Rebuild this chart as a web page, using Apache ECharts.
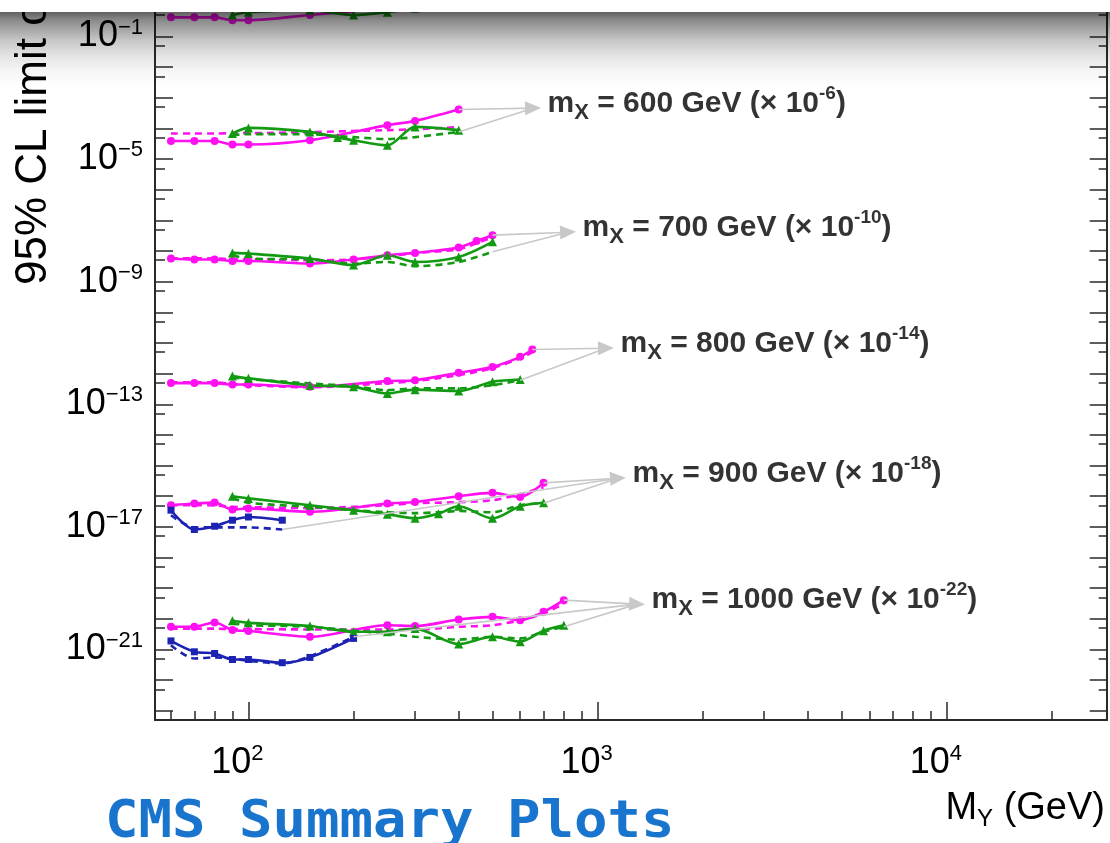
<!DOCTYPE html>
<html><head><meta charset="utf-8">
<script src="https://cdn.jsdelivr.net/npm/echarts@6/dist/echarts.min.js"></script>
<style>html,body{margin:0;padding:0;background:#fff}#c{width:1110px;height:843px}</style>
</head><body><div id="c"></div>
<script>
// ---------------- data (limits in the unscaled units; each row is multiplied by 10^SCALE_EXP) ----------------
const MX = [500, 600, 700, 800, 900, 1000];
const SCALE_EXP = [-2, -6, -10, -14, -18, -22];

// mX = 500 GeV (only its lower edge is visible at the top)
const MY_500_MAG = [60, 70, 80, 90, 100, 150, 250, 300, 400];
const OBS_500_MAG = [42, 42, 42, 34, 34, 50, 84, 105, 224];
const MY_500_GRN = [90, 100, 150, 200, 250, 300, 400];
const OBS_500_GRN = [50, 62, 72, 50, 62, 84, 151];

// mX = 600 GeV
const MY_600_MAG = [60, 70, 80, 90, 100, 150, 250, 300, 400];
const OBS_600_MAG = [39, 39, 39, 30, 30, 41, 128, 176, 415];
const EXP_600_MAG = [68, 68, 68, 70, 70, 76, 88, 94, 110];
const MY_600_GRN = [90, 100, 150, 180, 200, 250, 300, 400];
const OBS_600_GRN = [68, 104, 77, 51, 41, 28, 112, 88];
const EXP_600_GRN = [60, 65, 65, 56, 52, 45, 52, 77];

// mX = 700 GeV
const MY_700_MAG = [60, 70, 80, 90, 100, 150, 200, 250, 300, 400, 450, 500];
const OBS_700_MAG = [57, 53, 53, 47, 47, 39, 53, 73, 87, 131, 214, 329];
const EXP_700_MAG = [58, 58, 57, 54, 54, 50, 53, 68, 85, 115, 180, 283];
const MY_700_GRN = [90, 100, 150, 200, 250, 300, 400, 500];
const OBS_700_GRN = [87, 83, 57, 35, 73, 44, 64, 199];
const EXP_700_GRN = [73, 57, 53, 39, 44, 32, 44, 94];

// mX = 800 GeV
const MY_800_MAG = [60, 70, 80, 90, 100, 150, 250, 300, 400, 500, 600, 650];
const OBS_800_MAG = [49, 49, 49, 44, 44, 37, 57, 61, 106, 166, 352, 614];
const EXP_800_MAG = [52, 52, 52, 46, 42, 36, 49, 57, 89, 151, 316, 501];
const MY_800_GRN = [90, 100, 150, 200, 250, 300, 400, 500, 600];
const OBS_800_GRN = [83, 70, 42, 37, 22.5, 30, 27, 54, 64];
const EXP_800_GRN = [75, 66, 48, 39, 29, 33, 33, 42, 61];

// mX = 900 GeV
const MY_900_MAG = [60, 70, 80, 90, 100, 150, 250, 300, 400, 500, 600, 700];
const OBS_900_MAG = [51, 58, 62, 37, 40, 31, 58, 65, 100, 129, 95, 273];
const EXP_900_MAG = [51, 51, 50, 45, 44, 41, 51, 59, 64, 74, 117, 197];
const MY_900_GRN = [90, 100, 150, 200, 250, 300, 350, 400, 500, 600, 700];
const OBS_900_GRN = [100, 85, 51, 35, 26, 19, 27, 47, 19, 47, 61];
const EXP_900_GRN = [86, 61, 45, 35, 30, 28, 30, 33, 30, 51, 59];
const MY_900_BLU = [60, 70, 80, 90, 100, 125];
const OBS_900_BLU = [35, 8.2, 10.5, 16.5, 21, 16.5];
const EXP_900_BLU = [24, 9.6, 9.6, 9.6, 9.6, 8.2];

// mX = 1000 GeV
const MY_1000_MAG = [60, 70, 80, 90, 100, 150, 250, 300, 400, 500, 600, 700, 800];
const OBS_1000_MAG = [55, 55, 76, 43, 40, 26, 62, 58, 95, 116, 90, 169, 406];
const EXP_1000_MAG = [48, 48, 48, 46, 46, 45, 45, 45, 55, 62, 90, 150, 317];
const MY_1000_GRN = [90, 100, 150, 200, 250, 300, 400, 500, 600, 700, 800];
const OBS_1000_GRN = [86, 74, 58, 38, 38, 48, 15, 26, 18, 41, 62];
const EXP_1000_GRN = [71, 62, 55, 41, 33, 26, 21, 26, 23, 38, 55];
const MY_1000_BLU = [60, 70, 80, 90, 100, 125, 150, 200];
const OBS_1000_BLU = [19, 8.4, 7.4, 4.7, 4.7, 3.7, 5.5, 23];
const EXP_1000_BLU = [13.8, 5.1, 5.5, 5.1, 4.25, 3.5, 6, 26];

// label arrow tips (MY, unscaled limit value)
const TIP_MY = [null, 653, 823, 1057, 1144, 1297];
const TIP_VAL = [null, 458, 412, 676, 388, 302];

// axis ranges
const X_MIN = 54, X_MAX = 28700;
const Y_MIN_VAL = 5e-24;
const Y_LABEL_EVERY = 4; // label every 4th decade (10^-1, 10^-5, ...)

// ---------------- chart ----------------
const MAG = '#ff10f0', GRN = '#139a13', BLU = '#1c22b2';
const FONT = 'Liberation Sans';
const ROWS = [
  { mag: [MY_500_MAG, OBS_500_MAG, null], grn: [MY_500_GRN, OBS_500_GRN, null], blu: null },
  { mag: [MY_600_MAG, OBS_600_MAG, EXP_600_MAG], grn: [MY_600_GRN, OBS_600_GRN, EXP_600_GRN], blu: null },
  { mag: [MY_700_MAG, OBS_700_MAG, EXP_700_MAG], grn: [MY_700_GRN, OBS_700_GRN, EXP_700_GRN], blu: null },
  { mag: [MY_800_MAG, OBS_800_MAG, EXP_800_MAG], grn: [MY_800_GRN, OBS_800_GRN, EXP_800_GRN], blu: null },
  { mag: [MY_900_MAG, OBS_900_MAG, EXP_900_MAG], grn: [MY_900_GRN, OBS_900_GRN, EXP_900_GRN], blu: [MY_900_BLU, OBS_900_BLU, EXP_900_BLU] },
  { mag: [MY_1000_MAG, OBS_1000_MAG, EXP_1000_MAG], grn: [MY_1000_GRN, OBS_1000_GRN, EXP_1000_GRN], blu: [MY_1000_BLU, OBS_1000_BLU, EXP_1000_BLU] }
];

const W = 1110, H = 843;
const GRID_LEFT = 155, GRID_RIGHT = 3.3, GRID_TOP = 0, GRID_BOTTOM = 123;
const PX_PER_DEC = 30.65;
const yMin = Math.log10(Y_MIN_VAL);
const yMax = yMin + (H - GRID_TOP - GRID_BOTTOM) / PX_PER_DEC;
const yMajorMin = Math.ceil(yMin);
const grid1Bottom = GRID_BOTTOM + (yMajorMin - yMin) * PX_PER_DEC;

function line(data, color, symbol, size, dashed) {
  return {
    type: 'line', xAxisIndex: 0, yAxisIndex: 0, data: data,
    smooth: 0.3, silent: true, animation: false,
    symbol: dashed ? 'none' : symbol, symbolSize: size, showSymbol: !dashed,
    lineStyle: { color: color, width: 2.6, type: dashed ? [7, 5] : 'solid' },
    itemStyle: { color: color }
  };
}

const series = [];
ROWS.forEach(function (r, i) {
  const s = SCALE_EXP[i];
  const toY = function (v) { return Math.log10(v) + s; };
  const pts = function (xs, vs) { return xs.map(function (x, k) { return [x, toY(vs[k])]; }); };
  const ends = [];
  function add(grp, color, symbol, size) {
    if (!grp) return;
    const xs = grp[0], obs = grp[1], exp = grp[2];
    if (exp) series.push(line(pts(xs, exp), color, null, 0, true));
    series.push(line(pts(xs, obs), color, symbol, size, false));
  }
  add(r.mag, MAG, 'circle', 8);
  add(r.grn, GRN, 'triangle', 9);
  add(r.blu, BLU, 'rect', 7);
  if (TIP_MY[i] == null) return;
  const last = function (xs, vs) { return [xs[xs.length - 1], toY(vs[vs.length - 1])]; };
  ends.push(last(r.mag[0], r.mag[1]));
  ends.push(last(r.grn[0], r.grn[2]));
  if (r.blu) ends.push(last(r.blu[0], r.blu[2]));
  const tip = [TIP_MY[i], toY(TIP_VAL[i])];
  series.push({
    type: 'scatter', xAxisIndex: 0, yAxisIndex: 0, silent: true, animation: false,
    data: [tip], symbol: 'circle', symbolSize: 1, itemStyle: { color: 'rgba(0,0,0,0)' },
    label: {
      show: true, position: 'right', distance: 14, offset: [0, -4], color: '#000',
      formatter: '{b|m}{sub|X}{b| = ' + MX[i] + ' GeV (\u00d7 10}{sup|' + s + '}{b|)}',
      rich: {
        b: { fontFamily: FONT, fontWeight: 'bold', fontSize: 30, lineHeight: 40, color: '#000' },
        sub: { fontFamily: FONT, fontWeight: 'bold', fontSize: 22, lineHeight: 22, verticalAlign: 'bottom', color: '#000' },
        sup: { fontFamily: FONT, fontWeight: 'bold', fontSize: 19, lineHeight: 21, verticalAlign: 'top', color: '#000' }
      }
    },
    markLine: {
      silent: true, animation: false, symbol: ['none', 'none'],
      lineStyle: { color: '#c8c8c8', width: 1.6, type: 'solid' },
      label: { show: false }, emphasis: { disabled: true },
      data: ends.map(function (p, k) {
        return [{ coord: p, symbol: 'none' }, { coord: tip, symbol: k === 0 ? 'triangle' : 'none', symbolSize: [14, 16] }];
      })
    }
  });
});

const AXC = '#2a2a2a';
const supLabelRich = {
  b: { fontFamily: FONT, fontSize: 36, lineHeight: 40, color: '#000' },
  s: { fontFamily: FONT, fontSize: 22, lineHeight: 22, verticalAlign: 'top', color: '#000' }
};

const option = {
  animation: false,
  backgroundColor: '#fff',
  grid: [
    { left: GRID_LEFT, right: GRID_RIGHT, top: GRID_TOP, bottom: GRID_BOTTOM },
    { left: GRID_LEFT, right: GRID_RIGHT, top: GRID_TOP, bottom: grid1Bottom }
  ],
  xAxis: [
    {
      gridIndex: 0, type: 'log', logBase: 10, min: X_MIN, max: X_MAX, position: 'bottom',
      axisLine: { show: true, onZero: false, lineStyle: { color: AXC, width: 2 } },
      axisTick: { show: true, inside: true, length: 18, lineStyle: { color: AXC, width: 1.5 } },
      minorTick: { show: true, splitNumber: 9, length: 9, lineStyle: { color: AXC, width: 1.5 } },
      splitLine: { show: false }, minorSplitLine: { show: false },
      axisLabel: {
        margin: 23, padding: [0, 22, 0, 0],
        formatter: function (v) {
          const e = Math.log10(v), r = Math.round(e);
          if (Math.abs(e - r) > 1e-6) return '';
          return '{b|10}{s|' + r + '}';
        },
        rich: supLabelRich
      }
    },
    { gridIndex: 1, type: 'value', show: false, axisLine: { onZero: false } }
  ],
  yAxis: [
    {
      gridIndex: 0, type: 'value', position: 'left', min: yMin, max: yMax, interval: 1,
      axisLine: { show: true, onZero: false, lineStyle: { color: AXC, width: 2 } },
      axisTick: { show: true, inside: true, length: 10, lineStyle: { color: AXC, width: 1.5 } },
      axisLabel: { show: false }, splitLine: { show: false }
    },
    {
      gridIndex: 1, type: 'value', position: 'left', min: yMajorMin, max: yMax, interval: 1,
      axisLine: { show: false, onZero: false },
      axisTick: { show: true, inside: true, length: 18, lineStyle: { color: AXC, width: 1.5 } },
      splitLine: { show: false },
      axisLabel: {
        margin: 12,
        formatter: function (v) {
          const r = Math.round(v);
          if (Math.abs(v - r) > 1e-6) return '';
          if (((r % Y_LABEL_EVERY) + Y_LABEL_EVERY) % Y_LABEL_EVERY !== Y_LABEL_EVERY - 1) return '';
          return '{b|10}{s|' + (r < 0 ? '\u2212' + (-r) : r) + '}';
        },
        rich: supLabelRich
      }
    },
    {
      gridIndex: 0, type: 'value', position: 'right', min: yMin, max: yMax, interval: 1,
      axisLine: { show: true, onZero: false, lineStyle: { color: AXC, width: 2 } },
      axisTick: { show: true, inside: true, length: 8, lineStyle: { color: AXC, width: 1.5 } },
      axisLabel: { show: false }, splitLine: { show: false }
    },
    {
      gridIndex: 1, type: 'value', position: 'right', min: yMajorMin, max: yMax, interval: 1,
      axisLine: { show: false, onZero: false },
      axisTick: { show: true, inside: true, length: 17, lineStyle: { color: AXC, width: 1.5 } },
      axisLabel: { show: false }, splitLine: { show: false }
    }
  ],
  series: series,
  graphic: [
    {
      type: 'text', x: 34, y: 285, rotation: Math.PI / 2, z: 50,
      style: { text: '95% CL limit on \u03c3(pp \u2192 X \u2192 YH) (fb)', font: '44px "Liberation Sans"', fill: '#000', align: 'left', verticalAlign: 'middle' }
    },
    {
      type: 'text', x: 1105, y: 809, z: 50,
      style: {
        text: '{a|M}{b|Y}{a| (GeV)}', align: 'right', verticalAlign: 'middle',
        rich: {
          a: { fontFamily: FONT, fontSize: 38, lineHeight: 44, fill: '#000' },
          b: { fontFamily: FONT, fontSize: 24, lineHeight: 24, verticalAlign: 'bottom', fill: '#000' }
        }
      }
    },
    {
      type: 'text', x: 105, y: 849, z: 50, scaleX: 1.07,
      style: { text: 'CMS Summary Plots', font: 'bold 52px "DejaVu Sans Mono"', fill: '#1874cd', align: 'left', verticalAlign: 'bottom' }
    },
    {
      type: 'rect', z: 100, silent: true,
      shape: { x: 0, y: 12, width: W, height: 75 },
      style: {
        fill: {
          type: 'linear', x: 0, y: 0, x2: 0, y2: 1,
          colorStops: [
            { offset: 0, color: 'rgba(0,0,0,0.62)' },
            { offset: 0.11, color: 'rgba(0,0,0,0.46)' },
            { offset: 0.38, color: 'rgba(0,0,0,0.22)' },
            { offset: 0.58, color: 'rgba(0,0,0,0.11)' },
            { offset: 0.78, color: 'rgba(0,0,0,0.04)' },
            { offset: 1, color: 'rgba(0,0,0,0)' }
          ]
        }
      }
    },
    { type: 'rect', z: 101, silent: true, shape: { x: 0, y: 0, width: W, height: 12 }, style: { fill: '#fff' } }
  ]
};

const chart = echarts.init(document.getElementById('c'), null, { renderer: 'canvas' });
chart.setOption(option);
</script></body></html>
